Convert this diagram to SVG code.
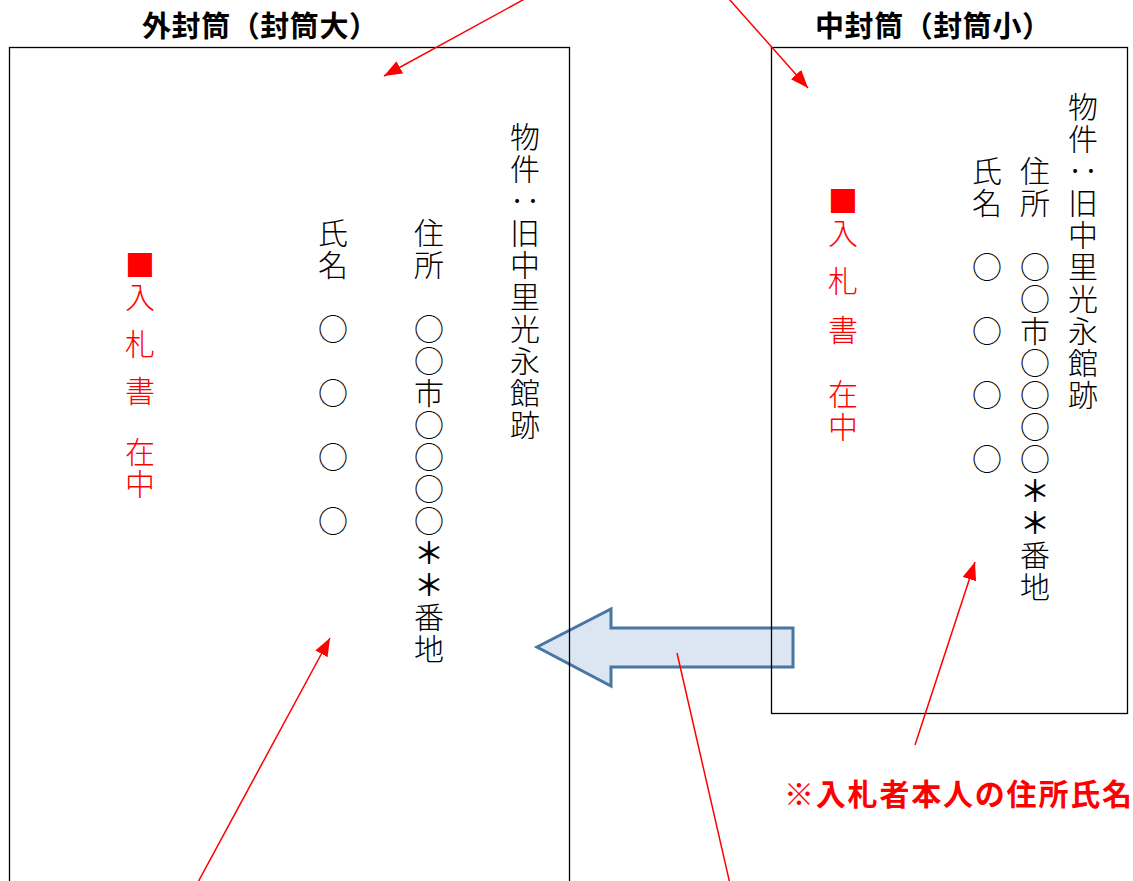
<svg xmlns="http://www.w3.org/2000/svg" width="1133" height="881" viewBox="0 0 1133 881">
<style>
.title{font-family:"Noto Sans CJK JP","Noto Sans CJK SC",sans-serif;font-size:29px;font-weight:bold;fill:#000}
.v{font-family:"Noto Sans CJK JP","Noto Sans CJK SC",sans-serif;font-size:30px;font-weight:300;text-anchor:middle;fill:#000}
.r{fill:#FF0000}
.ast{font-weight:500}
.env{fill:none;stroke:#000;stroke-width:1.3}
.lead{stroke:#FF0000;stroke-width:1.5;fill:none}
.note{font-family:"Noto Sans CJK JP","Noto Sans CJK SC",sans-serif;font-size:30px;font-weight:bold;fill:#FF0000}
</style>
<defs>
<marker id="ah" markerUnits="userSpaceOnUse" markerWidth="18" markerHeight="14" refX="18" refY="7" orient="auto">
<path d="M0,0 L18,7 L0,14 z" fill="#FF0000"/>
</marker>
</defs>
<rect x="0" y="0" width="1133" height="881" fill="#fff"/>

<g id="transfer-arrow">
<polygon points="537,647 611,609 611,628 793,628 793,667 611,667 611,686" fill="#DCE6F2" stroke="#4A76A3" stroke-width="3" stroke-linejoin="miter"/>
</g>

<g id="outer-envelope">
<text class="title" x="142" y="37" textLength="236" lengthAdjust="spacing">外封筒（封筒大）</text>
<rect class="env" x="9.5" y="47.5" width="560" height="860"/>
<text id="outer-property" class="v"><tspan x="525" y="148.4">物</tspan><tspan x="525" y="180.4">件</tspan><tspan x="525" y="244.4">旧</tspan><tspan x="525" y="276.4">中</tspan><tspan x="525" y="308.4">里</tspan><tspan x="525" y="340.4">光</tspan><tspan x="525" y="372.4">永</tspan><tspan x="525" y="404.4">館</tspan><tspan x="525" y="436.4">跡</tspan></text>
<text class="v" x="525" y="212.4" transform="rotate(90 525 201)">：</text>
<text id="outer-address" class="v"><tspan x="429" y="244.4">住</tspan><tspan x="429" y="276.4">所</tspan><tspan x="429" y="340.4">○</tspan><tspan x="429" y="372.4">○</tspan><tspan x="429" y="404.4">市</tspan><tspan x="429" y="436.4">○</tspan><tspan x="429" y="468.4">○</tspan><tspan x="429" y="500.4">○</tspan><tspan x="429" y="532.4">○</tspan><tspan class="ast" x="429" y="564.4">＊</tspan><tspan class="ast" x="429" y="596.4">＊</tspan><tspan x="429" y="628.4">番</tspan><tspan x="429" y="660.4">地</tspan></text>
<text id="outer-name" class="v"><tspan x="333" y="244.4">氏</tspan><tspan x="333" y="276.4">名</tspan><tspan x="333" y="340.4">○</tspan><tspan x="333" y="404.4">○</tspan><tspan x="333" y="468.4">○</tspan><tspan x="333" y="532.4">○</tspan></text>
<text id="outer-enclosed" class="v r"><tspan x="140" y="276.4">■</tspan><tspan x="140" y="308.4">入</tspan><tspan x="140" y="355.4">札</tspan><tspan x="140" y="402.4">書</tspan><tspan x="140" y="463.4">在</tspan><tspan x="140" y="495.4">中</tspan></text>
</g>

<g id="inner-envelope">
<text class="title" x="815" y="37" textLength="236" lengthAdjust="spacing">中封筒（封筒小）</text>
<rect class="env" x="771.5" y="47.5" width="356" height="666"/>
<text id="inner-property" class="v"><tspan x="1083" y="118.4">物</tspan><tspan x="1083" y="150.4">件</tspan><tspan x="1083" y="214.4">旧</tspan><tspan x="1083" y="246.4">中</tspan><tspan x="1083" y="278.4">里</tspan><tspan x="1083" y="310.4">光</tspan><tspan x="1083" y="342.4">永</tspan><tspan x="1083" y="374.4">館</tspan><tspan x="1083" y="406.4">跡</tspan></text>
<text class="v" x="1083" y="182.4" transform="rotate(90 1083 171)">：</text>
<text id="inner-address" class="v"><tspan x="1035" y="182.4">住</tspan><tspan x="1035" y="214.4">所</tspan><tspan x="1035" y="278.4">○</tspan><tspan x="1035" y="310.4">○</tspan><tspan x="1035" y="342.4">市</tspan><tspan x="1035" y="374.4">○</tspan><tspan x="1035" y="406.4">○</tspan><tspan x="1035" y="438.4">○</tspan><tspan x="1035" y="470.4">○</tspan><tspan class="ast" x="1035" y="502.4">＊</tspan><tspan class="ast" x="1035" y="534.4">＊</tspan><tspan x="1035" y="566.4">番</tspan><tspan x="1035" y="598.4">地</tspan></text>
<text id="inner-name" class="v"><tspan x="987" y="182.4">氏</tspan><tspan x="987" y="214.4">名</tspan><tspan x="987" y="278.4">○</tspan><tspan x="987" y="342.4">○</tspan><tspan x="987" y="406.4">○</tspan><tspan x="987" y="470.4">○</tspan></text>
<text id="inner-enclosed" class="v r"><tspan x="843" y="212.4">■</tspan><tspan x="843" y="244.4">入</tspan><tspan x="843" y="292.4">札</tspan><tspan x="843" y="341.4">書</tspan><tspan x="843" y="405.4">在</tspan><tspan x="843" y="438.4">中</tspan></text>
</g>

<g id="note">
<text class="note" x="784" y="805" textLength="348" lengthAdjust="spacing">※入札者本人の住所氏名</text>
</g>

<g id="connectors">
<line class="lead" x1="541" y1="-10" x2="384" y2="76" marker-end="url(#ah)"/>
<line class="lead" x1="721" y1="-10" x2="808" y2="88" marker-end="url(#ah)"/>
<line class="lead" x1="197" y1="884" x2="330" y2="638" marker-end="url(#ah)"/>
<line class="lead" x1="915" y1="745" x2="975" y2="562" marker-end="url(#ah)"/>
<line class="lead" x1="730" y1="884" x2="677" y2="653"/>
</g>
</svg>
